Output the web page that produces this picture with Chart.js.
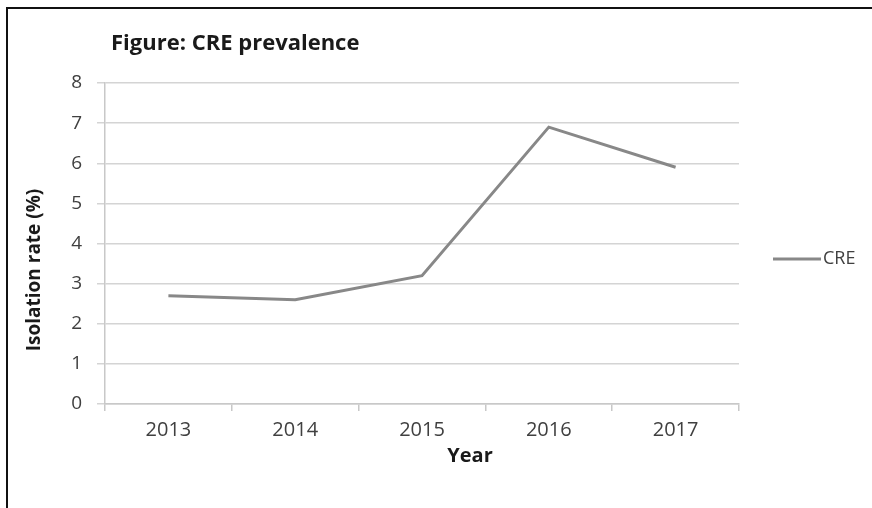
<!DOCTYPE html>
<html>
<head>
<meta charset="utf-8">
<script src="https://cdn.jsdelivr.net/npm/chart.js@4.4.1/dist/chart.umd.min.js"></script>
<style>
  html, body { margin: 0; padding: 0; background: #fff; }
  #wrap { position: relative; width: 872px; height: 508px; overflow: hidden; }
  #frame { position: absolute; left: 6px; top: 7px; width: 900px; height: 600px;
           border-top: 2px solid #111; border-left: 2px solid #111; pointer-events: none; }
</style>
</head>
<body>
<div id="wrap">
  <canvas id="lineChart"></canvas>
  <div id="frame"></div>
</div>
<script>
// Values
const YEARS = ['2013', '2014', '2015', '2016', '2017'];
const CRE_RATE = [2.7, 2.6, 3.2, 6.9, 5.9];
const Y_TICKS = [0, 1, 2, 3, 4, 5, 6, 7, 8];

const CHART_TITLE = 'Figure: CRE prevalence';
const X_TITLE = 'Year';
const Y_TITLE = 'Isolation rate (%)';

const FONT = '"Open Sans", sans-serif';

// Title, axis titles and the legend are drawn here so they sit
// where the original (an Excel chart) put them.
const textPlugin = {
  id: 'excelTexts',
  afterDraw(chart) {
    const ctx = chart.ctx;
    ctx.save();
    ctx.fillStyle = '#1a1a1a';
    ctx.textBaseline = 'middle';

    // chart title
    ctx.font = 'bold 22px ' + FONT;
    ctx.textAlign = 'left';
    ctx.fillText(CHART_TITLE, 111, 44);

    // x axis title
    ctx.font = 'bold 20px ' + FONT;
    ctx.textAlign = 'center';
    ctx.fillText(X_TITLE, 470, 456);

    // y axis title, rotated
    ctx.font = 'bold 19px ' + FONT;
    ctx.translate(35, 270);
    ctx.rotate(-Math.PI / 2);
    ctx.fillText(Y_TITLE, 0, 0);
    ctx.setTransform(1, 0, 0, 1, 0, 0);

    // legend, one entry per dataset
    let ly = 259;
    chart.data.datasets.forEach(ds => {
      ctx.strokeStyle = ds.borderColor;
      ctx.lineWidth = ds.borderWidth;
      ctx.beginPath();
      ctx.moveTo(773, ly);
      ctx.lineTo(821, ly);
      ctx.stroke();
      ctx.font = '18px ' + FONT;
      ctx.fillStyle = '#404040';
      ctx.textAlign = 'left';
      ctx.fillText(ds.label, 823, ly);
      ly += 24;
    });
    ctx.restore();
  }
};

const lineChart = new Chart(document.getElementById('lineChart'), {
  type: 'line',
  data: {
    labels: YEARS,
    datasets: [{
      label: 'CRE',
      data: CRE_RATE,
      borderColor: '#888888',
      backgroundColor: '#888888',
      borderWidth: 3,
      pointRadius: 0,
      tension: 0,
    }],
  },
  options: {
    responsive: true,
    maintainAspectRatio: false,
    animation: false,
    layout: {
      padding: { top: 83, right: 133, left: 0, bottom: 0 },
    },
    plugins: {
      legend: { display: false },
      title: { display: false },
      tooltip: { enabled: false },
    },
    scales: {
      x: {
        offset: true,
        grid: {
          offset: true,
          drawOnChartArea: false,
          drawTicks: true,
          tickLength: 7,
          color: '#c8c8c8',
          lineWidth: 1.5,
        },
        border: { color: '#c8c8c8', width: 1.5 },
        ticks: {
          color: '#404040',
          font: { family: FONT, size: 20 },
          padding: 7,
          maxRotation: 0,
        },
        afterFit(scale) { scale.height = 104; },
      },
      y: {
        min: 0,
        max: 8,
        afterBuildTicks(scale) {
          scale.ticks = Y_TICKS.map(v => ({ value: v }));
        },
        grid: {
          color: '#d4d4d4',
          lineWidth: 1.5,
          tickLength: 8,
        },
        border: { color: '#c8c8c8', width: 1.5 },
        ticks: {
          color: '#404040',
          font: { family: FONT, size: 19 },
          padding: 15,
        },
        afterFit(scale) { scale.width = 105; },
      },
    },
  },
  plugins: [textPlugin],
});
</script>
</body>
</html>
